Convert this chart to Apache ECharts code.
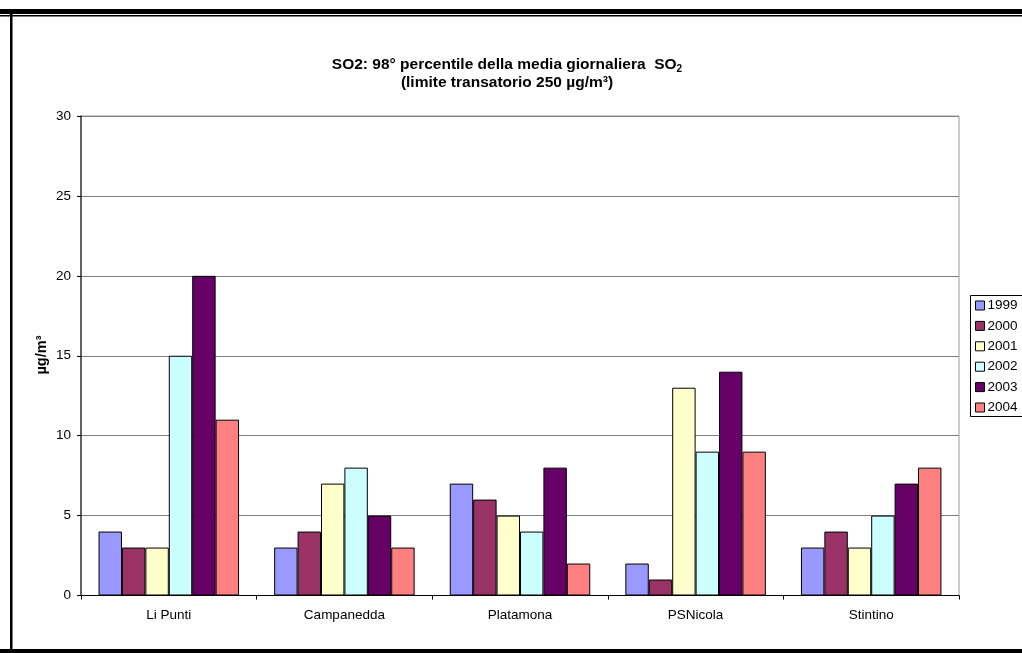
<!DOCTYPE html>
<html>
<head>
<meta charset="utf-8">
<title>SO2 98° percentile</title>
<script src="https://cdn.jsdelivr.net/npm/echarts@6/dist/echarts.min.js"></script>
<style>
  html, body { margin: 0; padding: 0; background: #fff; }
  #chart { width: 1022px; height: 653px; }
</style>
</head>
<body>
<div id="chart"></div>
<script>
// Monitoring stations
var stations = ['Li Punti', 'Campanedda', 'Platamona', 'PSNicola', 'Stintino'];
// Years shown as series
var years = ['1999', '2000', '2001', '2002', '2003', '2004'];
// 98th percentile of daily mean SO2 (µg/m³), one array per year, by station
var v1999 = [4, 3, 7, 2, 3];
var v2000 = [3, 4, 6, 1, 4];
var v2001 = [3, 7, 5, 13, 3];
var v2002 = [15, 8, 4, 9, 5];
var v2003 = [20, 5, 8, 14, 7];
var v2004 = [11, 3, 2, 9, 8];
// Value axis ticks
var yTicks = [0, 5, 10, 15, 20, 25, 30];

var yearValues = [v1999, v2000, v2001, v2002, v2003, v2004];
var yearColors = ['#9999FF', '#993366', '#FFFFCC', '#CCFFFF', '#660066', '#FF8080'];

var chart = echarts.init(document.getElementById('chart'), null, { renderer: 'canvas' });

var series = years.map(function (y, i) {
  return {
    name: y,
    type: 'bar',
    data: yearValues[i],
    barGap: '0%',
    barCategoryGap: '20%',
    itemStyle: { color: yearColors[i], borderColor: '#000', borderWidth: 1 },
    emphasis: { disabled: true },
    animation: false
  };
});

var font = '"Liberation Sans", Arial, sans-serif';
var labelSize = 13.5;

chart.setOption({
  animation: false,
  textStyle: { fontFamily: font },
  title: {
    text: 'SO2: 98° percentile della media giornaliera  SO{sub|2}\n(limite transatorio 250 µg/m³)',
    left: 502,
    top: 51,
    textAlign: 'center',
    textStyle: {
      fontFamily: font,
      fontSize: 15.5,
      fontWeight: 'bold',
      color: '#000',
      lineHeight: 18,
      rich: {
        sub: { fontFamily: font, fontSize: 10, fontWeight: 'bold', color: '#000', verticalAlign: 'bottom', lineHeight: 14 }
      }
    }
  },
  legend: {
    orient: 'vertical',
    left: 975,
    top: 298.5,
    padding: 0,
    itemWidth: 9,
    itemHeight: 9,
    itemGap: 6.4,
    icon: 'rect',
    selectedMode: false,
    data: years,
    itemStyle: { borderColor: '#000', borderWidth: 1 },
    textStyle: { fontFamily: font, fontSize: labelSize, color: '#000', padding: [0, 0, 0, -2], lineHeight: 14 }
  },
  grid: {
    left: 81,
    right: 63,
    top: 116,
    bottom: 57.5,
    show: true,
    borderColor: '#9a9a9a',
    borderWidth: 1,
    containLabel: false
  },
  xAxis: {
    type: 'category',
    data: stations,
    axisLine: { lineStyle: { color: '#000', width: 1 } },
    axisTick: { show: true, length: 4, inside: false, lineStyle: { color: '#000' } },
    axisLabel: { fontFamily: font, fontSize: labelSize, color: '#000', margin: 13 },
    splitLine: { show: false }
  },
  yAxis: {
    type: 'value',
    min: 0,
    max: 30,
    interval: 5,
    axisLine: { show: true, lineStyle: { color: '#404040', width: 1.5 } },
    axisTick: { show: true, length: 4, lineStyle: { color: '#000' } },
    axisLabel: {
      fontFamily: font, fontSize: labelSize, color: '#000', margin: 10,
      formatter: function (v) { return yTicks.indexOf(v) >= 0 ? String(v) : ''; }
    },
    splitLine: { show: true, lineStyle: { color: '#7f7f7f', width: 1 } }
  },
  series: series,
  graphic: [
    // page frame
    { type: 'rect', shape: { x: 0, y: 9, width: 1022, height: 5 }, style: { fill: '#000' }, silent: true },
    { type: 'rect', shape: { x: 0, y: 15, width: 1022, height: 1.5 }, style: { fill: '#000' }, silent: true },
    { type: 'rect', shape: { x: 10, y: 14, width: 2.5, height: 639 }, style: { fill: '#000' }, silent: true },
    { type: 'rect', shape: { x: 0, y: 649, width: 1022, height: 4 }, style: { fill: '#000' }, silent: true },
    // legend box
    { type: 'rect', z: -1, shape: { x: 970.5, y: 295.5, width: 60, height: 121 }, style: { fill: '#fff', stroke: '#000', lineWidth: 1 }, silent: true },
    // value axis name
    {
      type: 'text', x: 42, y: 355, rotation: Math.PI / 2, silent: true,
      style: { text: 'µg/m³', fontFamily: font, fontSize: 14.5, fontWeight: 'bold', fill: '#000', align: 'center', verticalAlign: 'middle' }
    }
  ]
});
</script>
</body>
</html>
